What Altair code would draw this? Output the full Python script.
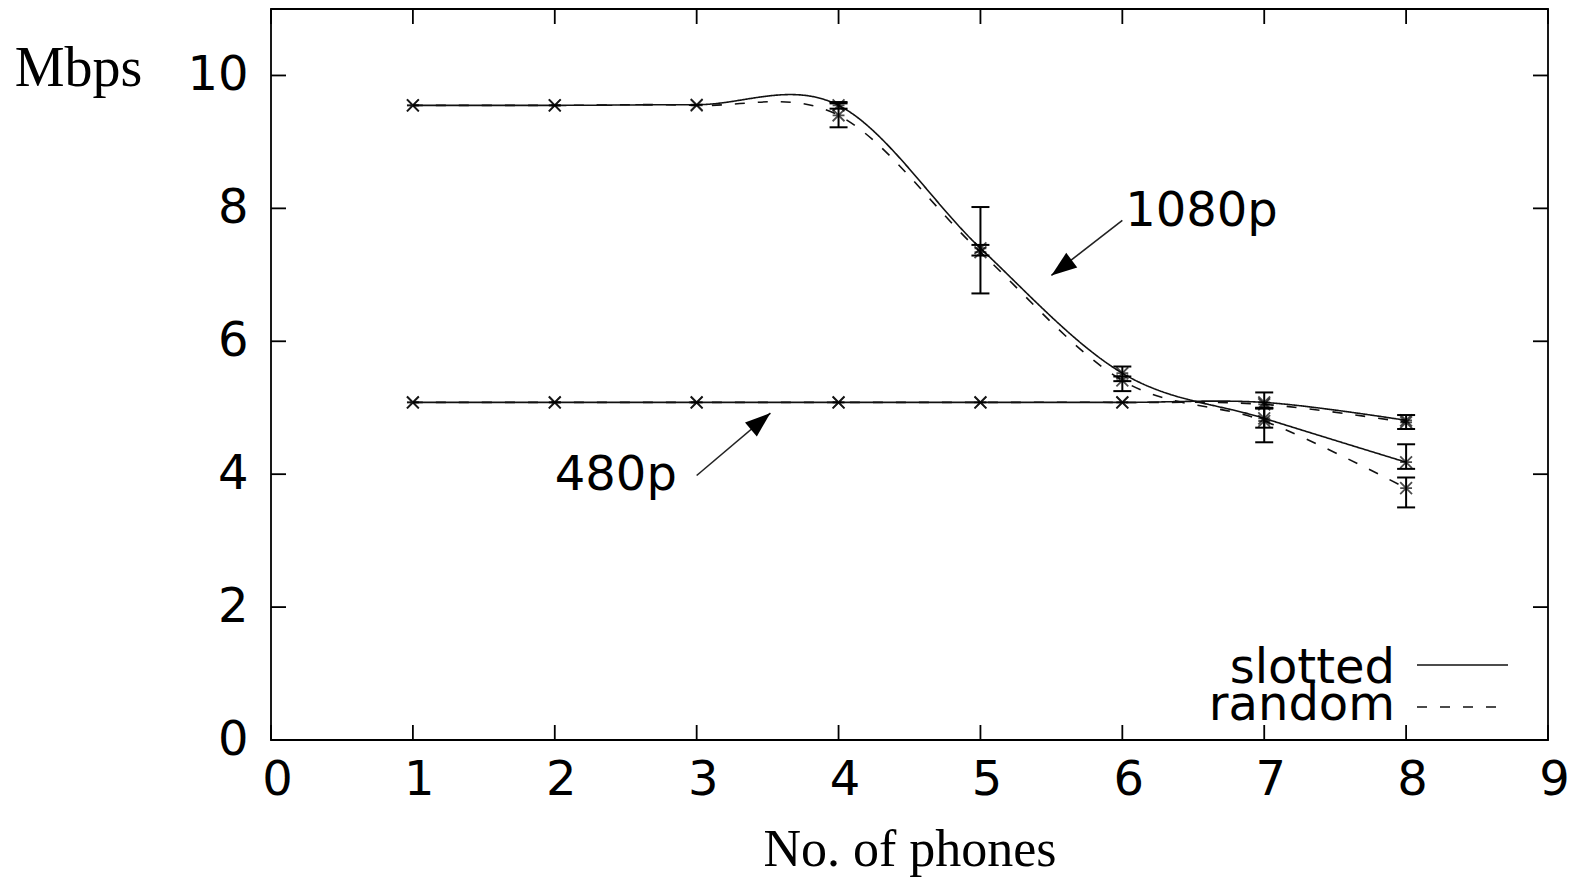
import altair as alt
import pandas as pd

# ---- data ----
phones = [1, 2, 3, 4, 5, 6, 7, 8]
hd_slotted = [9.55, 9.55, 9.56, 9.55, 7.40, 5.52, 4.84, 4.18]
hd_random = [9.55, 9.55, 9.55, 9.40, 7.34, 5.41, 4.80, 3.79]
sd_slotted = [5.08, 5.08, 5.08, 5.08, 5.08, 5.08, 5.08, 4.81]
sd_random = [5.08, 5.08, 5.08, 5.08, 5.08, 5.08, 5.05, 4.78]

err_x = [4, 4, 5, 5, 6, 6, 7, 7, 7, 8, 8, 8]
err_lo = [9.50, 9.22, 6.72, 7.29, 5.40, 5.25, 4.99, 4.48, 4.70, 4.68, 4.08, 3.50]
err_hi = [9.60, 9.58, 8.02, 7.45, 5.62, 5.47, 5.23, 5.00, 4.99, 4.89, 4.45, 3.95]

x_ticks = [0, 1, 2, 3, 4, 5, 6, 7, 8, 9]
y_ticks = [0, 2, 4, 6, 8, 10]

ann_text = ["1080p", "480p"]
ann_x = [6.02, 2.0]
ann_y = [7.74, 3.76]
arrow_x0 = [6.0, 3.0]
arrow_y0 = [7.82, 3.98]
arrow_x1 = [5.5, 3.52]
arrow_y1 = [6.99, 4.92]
arrow_angle = [233, 50]

legend_names = ["slotted", "random"]

W, H = 1277, 731
XS = alt.Scale(domain=[0, 9], nice=False, zero=False)
YS = alt.Scale(domain=[0, 11], nice=False, zero=False)

rows = []
for name, vals, res, sty in [
    ("hd_slotted", hd_slotted, "1080p", "slotted"),
    ("hd_random", hd_random, "1080p", "random"),
    ("sd_slotted", sd_slotted, "480p", "slotted"),
    ("sd_random", sd_random, "480p", "random"),
]:
    for x, v in zip(phones, vals):
        rows.append({"series": name, "res": res, "style": sty, "x": x, "y": v})
df = pd.DataFrame(rows)
err = pd.DataFrame({"x": err_x, "lo": err_lo, "hi": err_hi})
ann = pd.DataFrame({"t": ann_text, "x": ann_x, "y": ann_y,
                    "x0": arrow_x0, "y0": arrow_y0, "x1": arrow_x1, "y1": arrow_y1,
                    "ang": arrow_angle})

LABEL_FONT = "DejaVu Sans"
TITLE_FONT = "Liberation Serif"

xaxis = alt.Axis(values=x_ticks, format="d", grid=False, domain=False, ticks=False,
                 labelFont=LABEL_FONT, labelFontSize=48, labelColor="black",
                 labelPadding=16, labelFlush=False, labelOverlap=False, labelOffset=6,
                 title="No. of phones", titleFont=TITLE_FONT, titleFontSize=52,
                 titleFontWeight="normal", titleColor="black", titleY=125,
                 titleBaseline="alphabetic")
yaxis = alt.Axis(values=y_ticks, format="d", grid=False, domain=False, ticks=False,
                 labelFont=LABEL_FONT, labelFontSize=48, labelColor="black",
                 labelPadding=23, labelOverlap=False,
                 title="Mbps", titleFont=TITLE_FONT, titleFontSize=56,
                 titleFontWeight="normal", titleColor="black", titleAngle=0,
                 titleX=-193, titleY=76, titleAlign="center", titleBaseline="alphabetic")

base = alt.Chart(df)

lines = base.mark_line(interpolate="cardinal", color="#111", strokeWidth=1.6).encode(
    x=alt.X("x:Q", scale=XS, axis=xaxis),
    y=alt.Y("y:Q", scale=YS, axis=yaxis),
    detail="series:N",
    strokeDash=alt.StrokeDash("style:N",
                              scale=alt.Scale(domain=["slotted", "random"],
                                              range=[[1, 0], [10, 13]]),
                              legend=None),
)

STAR = "M-1,-1L1,1M-1,1L1,-1M-1,0L1,0"
points = base.mark_point(shape=STAR, size=140, color="black", strokeWidth=1.8,
                         filled=False).encode(
    x=alt.X("x:Q", scale=XS), y=alt.Y("y:Q", scale=YS))

ebar = alt.Chart(err).mark_rule(color="black", strokeWidth=2).encode(
    x=alt.X("x:Q", scale=XS), y=alt.Y("lo:Q", scale=YS), y2="hi:Q")
cap_lo = alt.Chart(err).mark_rule(color="black", strokeWidth=2, xOffset=-9, x2Offset=9).encode(
    x=alt.X("x:Q", scale=XS), x2="x:Q", y=alt.Y("lo:Q", scale=YS))
cap_hi = alt.Chart(err).mark_rule(color="black", strokeWidth=2, xOffset=-9, x2Offset=9).encode(
    x=alt.X("x:Q", scale=XS), x2="x:Q", y=alt.Y("hi:Q", scale=YS))

# inward ticks on all four sides
xt = pd.DataFrame({"v": x_ticks})
yt = pd.DataFrame({"v": y_ticks})
tick_b = alt.Chart(xt).mark_rule(color="black", strokeWidth=1.8).encode(
    x=alt.X("v:Q", scale=XS), y=alt.value(H), y2=alt.value(H - 15))
tick_t = alt.Chart(xt).mark_rule(color="black", strokeWidth=1.8).encode(
    x=alt.X("v:Q", scale=XS), y=alt.value(0), y2=alt.value(15))
tick_l = alt.Chart(yt).mark_rule(color="black", strokeWidth=1.8).encode(
    y=alt.Y("v:Q", scale=YS), x=alt.value(0), x2=alt.value(15))
tick_r = alt.Chart(yt).mark_rule(color="black", strokeWidth=1.8).encode(
    y=alt.Y("v:Q", scale=YS), x=alt.value(W - 15), x2=alt.value(W))

ann_base = alt.Chart(ann)
ann_text_l = ann_base.mark_text(font=LABEL_FONT, fontSize=48, color="black",
                                align="left", baseline="alphabetic").encode(
    x=alt.X("x:Q", scale=XS), y=alt.Y("y:Q", scale=YS), text="t:N")
ann_shaft = ann_base.mark_rule(color="#222", strokeWidth=1.6).encode(
    x=alt.X("x0:Q", scale=XS), y=alt.Y("y0:Q", scale=YS), x2="x1:Q", y2="y1:Q")
HEAD = "M0,0L-0.36,1L0.36,1Z"
ann_head = ann_base.mark_point(shape=HEAD, size=2600, filled=True, color="black",
                               opacity=1).encode(
    x=alt.X("x1:Q", scale=XS), y=alt.Y("y1:Q", scale=YS), angle=alt.Angle("ang:Q", scale=None))

# key (bottom right), gnuplot style: label then line sample
leg_df = pd.DataFrame({"name": legend_names})
leg_t1 = alt.Chart(leg_df).transform_filter("datum.name == 'slotted'").mark_text(
    font=LABEL_FONT, fontSize=48, color="black", align="right", baseline="alphabetic").encode(
    x=alt.value(1124), y=alt.value(674), text="name:N")
leg_t2 = alt.Chart(leg_df).transform_filter("datum.name == 'random'").mark_text(
    font=LABEL_FONT, fontSize=48, color="black", align="right", baseline="alphabetic").encode(
    x=alt.value(1124), y=alt.value(711), text="name:N")
leg_l1 = alt.Chart(leg_df).transform_filter("datum.name == 'slotted'").mark_rule(
    color="#111", strokeWidth=1.6).encode(x=alt.value(1146), x2=alt.value(1237), y=alt.value(656))
leg_l2 = alt.Chart(leg_df).transform_filter("datum.name == 'random'").mark_rule(
    color="#111", strokeWidth=1.6, strokeDash=[10, 13]).encode(
    x=alt.value(1146), x2=alt.value(1237), y=alt.value(698))

chart = alt.layer(
    lines, points, ebar, cap_lo, cap_hi,
    tick_b, tick_t, tick_l, tick_r,
    ann_shaft, ann_head, ann_text_l,
    leg_t1, leg_t2, leg_l1, leg_l2,
).properties(
    width=W, height=H,
    autosize=alt.AutoSizeParams(type="none"),
    padding={"left": 271, "top": 9, "right": 27, "bottom": 139},
    background="white",
).configure_view(stroke="black", strokeWidth=1.8)

chart.save("out.html", embed_options={"renderer": "svg", "actions": False})
